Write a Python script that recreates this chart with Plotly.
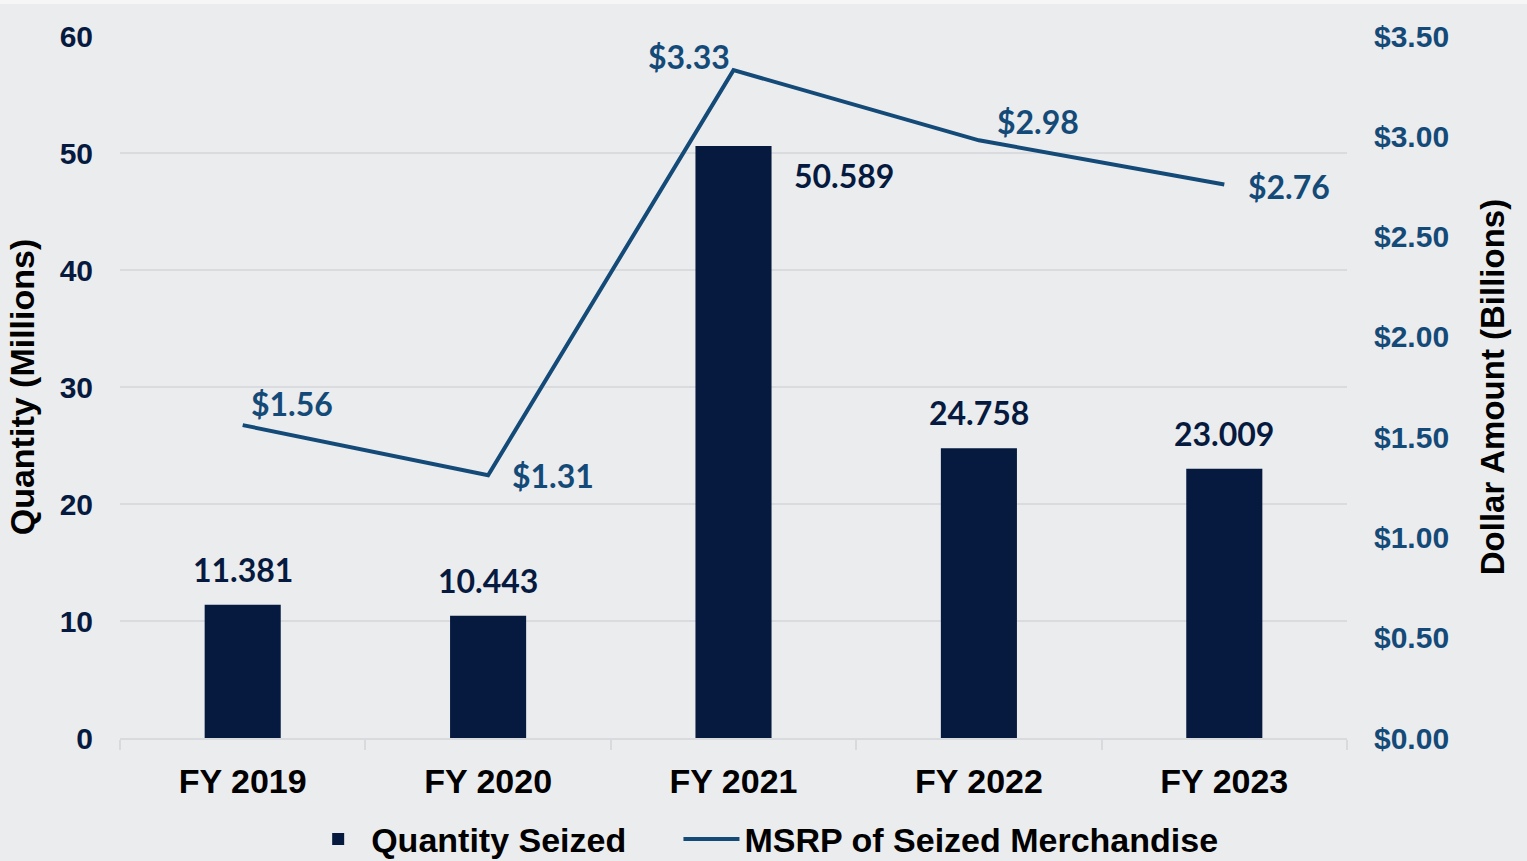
import plotly.graph_objects as go

categories = ["FY 2019", "FY 2020", "FY 2021", "FY 2022", "FY 2023"]
quantity = [11.381, 10.443, 50.589, 24.758, 23.009]
msrp = [1.56, 1.31, 3.33, 2.98, 2.76]
qty_label_pos = ["top", "top", "right", "top", "top"]
msrp_label_pos = ["top right", "bottom right", "top left", "top right", "middle right"]

BG = "#EBECEE"
NAVY = "#061A40"
BLUE = "#144A78"
NARROW = "Liberation Sans Narrow, Arial Narrow, Liberation Sans, Arial, sans-serif"
SANS = "Liberation Sans, Arial, sans-serif"
LABEL = "Lato, Open Sans, sans-serif"

fig = go.Figure()
fig.add_trace(go.Bar(x=categories, y=quantity, name="Quantity Seized&nbsp;&nbsp;&nbsp;&nbsp;&nbsp;",
                     marker=dict(color=NAVY, line=dict(width=0)), yaxis="y"))
fig.add_trace(go.Scatter(x=categories, y=msrp, name="MSRP of Seized Merchandise",
                         mode="lines", line=dict(color=BLUE, width=4), yaxis="y2"))

annotations = []
for c, v, p in zip(categories, quantity, qty_label_pos):
    if p == "top":
        annotations.append(dict(x=c, y=v, xref="x", yref="y", text=f"{v:.3f}",
                                showarrow=False, xanchor="center", yanchor="bottom", yshift=14,
                                font=dict(family=LABEL, size=32, color=NAVY, weight="bold")))
    else:
        annotations.append(dict(x=c, y=v, xref="x", yref="y", text=f"{v:.3f}",
                                showarrow=False, xanchor="left", yanchor="top", xshift=58, yshift=-8,
                                font=dict(family=LABEL, size=32, color=NAVY, weight="bold")))

shift = {
    "top right": dict(xanchor="left", yanchor="bottom", xshift=6, yshift=0),
    "bottom right": dict(xanchor="left", yanchor="top", xshift=22, yshift=21),
    "top left": dict(xanchor="right", yanchor="bottom", xshift=-2, yshift=-8),
    "middle right": dict(xanchor="left", yanchor="middle", xshift=22, yshift=-2),
}
for i, (c, v, p) in enumerate(zip(categories, msrp, msrp_label_pos)):
    s = dict(shift[p])
    if i == 3:
        s["xshift"] = 16
        s["yshift"] = -3
    annotations.append(dict(x=c, y=v, xref="x", yref="y2", text=f"${v:.2f}",
                            showarrow=False, **s,
                            font=dict(family=LABEL, size=32, color=BLUE, weight="bold")))

fig.update_layout(
    width=1527, height=861,
    paper_bgcolor=BG, plot_bgcolor=BG,
    margin=dict(l=120, r=180, t=36, b=123, autoexpand=False),
    bargap=0.69,
    showlegend=True,
    legend=dict(orientation="h", x=0.525, xanchor="center", y=-0.103, yanchor="top",
                font=dict(family=NARROW, size=34, color="#000000", weight="bold"),
                bgcolor="rgba(0,0,0,0)", itemwidth=56),
    xaxis=dict(type="category", showgrid=False, showline=True, linecolor="#D9DADD", linewidth=2,
               ticks="outside", tickson="boundaries", ticklen=10, tickcolor="#D9DADD", tickwidth=2,
               tickfont=dict(family=NARROW, size=34, color="#000000", weight="bold"),
               ticklabelstandoff=12),
    yaxis=dict(range=[0, 60], dtick=10, showgrid=True, gridcolor="#DADBDE", gridwidth=2,
               zeroline=False, showline=False, ticks="",
               tickfont=dict(family=SANS, size=30, color=NAVY, weight="bold"),
               ticklabelstandoff=26,
               title=dict(text="Quantity (Millions)", standoff=14,
                          font=dict(family=NARROW, size=34, color="#000000", weight="bold"))),
    yaxis2=dict(range=[0, 3.5], dtick=0.5, tickformat="$.2f", overlaying="y", side="right",
                showgrid=False, zeroline=False, showline=False, ticks="",
                tickfont=dict(family=SANS, size=30, color=BLUE, weight="bold"),
                ticklabelstandoff=26,
                title=dict(text="Dollar Amount (Billions)", standoff=32,
                           font=dict(family=SANS, size=33, color="#000000", weight="bold"))),
    annotations=annotations,
    shapes=[dict(type="rect", xref="paper", yref="paper", x0=-0.2, x1=1.3,
                 y0=1 + 32 / 702, y1=1.2, fillcolor="#F6F6F7", line=dict(width=0), layer="below")],
)

fig.write_html("out.html")
